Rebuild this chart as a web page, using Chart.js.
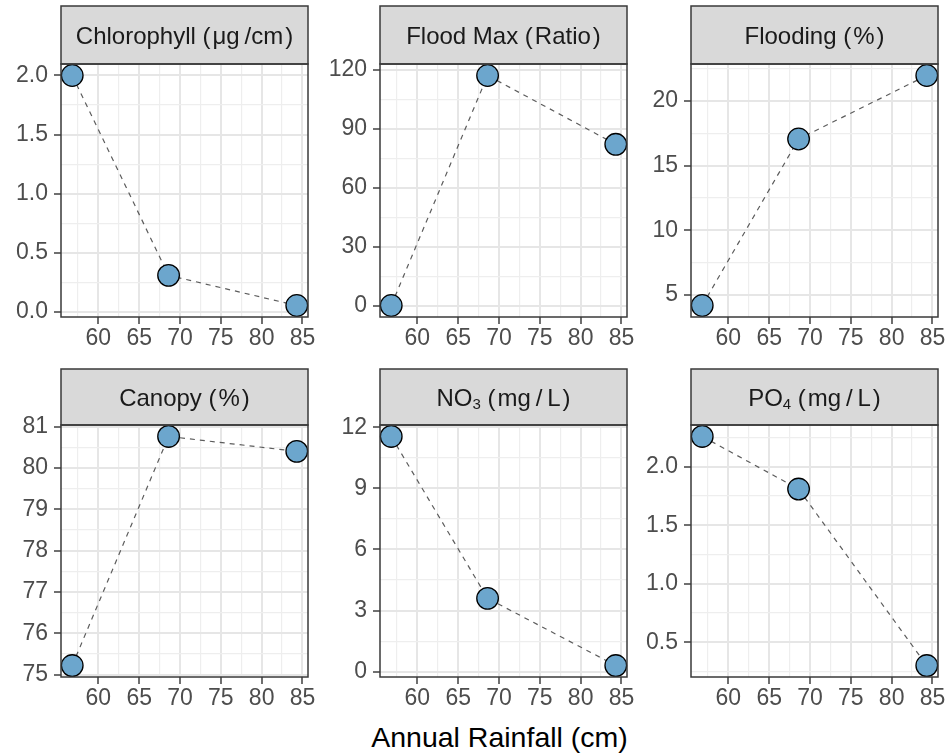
<!DOCTYPE html>
<html>
<head>
<meta charset="utf-8">
<script src="https://cdn.jsdelivr.net/npm/chart.js@4.4.1/dist/chart.umd.min.js"></script>
<style>
  html, body { margin:0; padding:0; background:#fff; width:951px; height:753px; overflow:hidden; position:relative; }
  canvas { position:absolute; }
  #xtitle { position:absolute; left:61px; width:877px; top:723px; text-align:center;
            font:28.5px "Liberation Sans", Arial, sans-serif; line-height:28px; color:#000; }
</style>
</head>
<body>
<div id="xtitle">Annual Rainfall (cm)</div>
<script>
// values
var rainfall = [56.8, 68.6, 84.3];
var xTicks = [60, 65, 70, 75, 80, 85];

var chlorophyll = [2.0, 0.31, 0.055];
var floodMax = [0.2, 117.2, 82.2];
var flooding = [4.2, 17.05, 21.95];
var canopy = [75.22, 80.76, 80.40];
var no3 = [11.55, 3.6, 0.3];
var po4 = [2.26, 1.81, 0.3];

var chlorophyllTicks = [0, 0.5, 1.0, 1.5, 2.0];
var chlorophyllLabels = ['0.0', '0.5', '1.0', '1.5', '2.0'];
var floodMaxTicks = [0, 30, 60, 90, 120];
var floodingTicks = [5, 10, 15, 20];
var canopyTicks = [75, 76, 77, 78, 79, 80, 81];
var no3Ticks = [0, 3, 6, 9, 12];
var po4Ticks = [0.5, 1.0, 1.5, 2.0];
var po4Labels = ['0.5', '1.0', '1.5', '2.0'];

// strip titles as [text, subscript?] pieces
var stripChl = [['Chlorophyll (\u200Aμg\u2009/cm\u200A)']];
var stripFloodMax = [['Flood Max (\u200ARatio\u200A)']];
var stripFlooding = [['Flooding (\u200A%\u200A)']];
var stripCanopy = [['Canopy (\u200A%\u200A)']];
var stripNo3 = [['NO'], ['3', true], [' (\u200Amg\u2009/\u2009L\u200A)']];
var stripPo4 = [['PO'], ['4', true], [' (\u200Amg\u2009/\u2009L\u200A)']];

var panels = [
  { strip: stripChl, y: chlorophyll, ticks: chlorophyllTicks, labels: chlorophyllLabels, col: 0, row: 0 },
  { strip: stripFloodMax, y: floodMax, ticks: floodMaxTicks, col: 1, row: 0 },
  { strip: stripFlooding, y: flooding, ticks: floodingTicks, col: 2, row: 0 },
  { strip: stripCanopy, y: canopy, ticks: canopyTicks, col: 0, row: 1 },
  { strip: stripNo3, y: no3, ticks: no3Ticks, col: 1, row: 1 },
  { strip: stripPo4, y: po4, ticks: po4Ticks, labels: po4Labels, col: 2, row: 1 }
];

// layout
var colLeft = [61, 380, 691];
var plotW = 247;
var yAxisW = 61;
var padRight = 18;
var rows = [
  { canvasTop: 0, h: 358, stripTop: 6, top: 64, bottom: 317 },
  { canvasTop: 360, h: 360, stripTop: 369, top: 425, bottom: 677 }
];
var FONT = '"Liberation Sans", Arial, sans-serif';

function expand(vals) {
  var lo = Math.min.apply(null, vals), hi = Math.max.apply(null, vals);
  var d = (hi - lo) * 0.05;
  return [lo - d, hi + d];
}

function withMinors(majors, lo, hi) {
  var step = majors[1] - majors[0];
  var out = [majors[0] - step / 2];
  majors.forEach(function(m) { out.push(m); out.push(m + step / 2); });
  return out.filter(function(v) { return v >= lo && v <= hi; });
}

function isMajor(majors, v) {
  return majors.some(function(m) { return Math.abs(m - v) < 1e-9; });
}

var facetPlugin = {
  id: 'facet',
  afterDraw: function(chart) {
    var o = chart.options.plugins.facet;
    var a = chart.chartArea;
    var ctx = chart.ctx;
    ctx.save();
    ctx.fillStyle = '#d9d9d9';
    ctx.fillRect(a.left, o.stripTop, a.right - a.left, a.top - o.stripTop);
    ctx.strokeStyle = '#3a3a3a';
    ctx.lineWidth = 1.5;
    ctx.strokeRect(a.left, o.stripTop, a.right - a.left, a.top - o.stripTop);
    ctx.strokeRect(a.left, a.top, a.right - a.left, a.bottom - a.top);

    // strip text
    var fs = 24;
    var subFs = 15;
    var widths = o.strip.map(function(p) {
      ctx.font = (p[1] ? subFs : fs) + 'px ' + FONT;
      return ctx.measureText(p[0]).width;
    });
    var total = widths.reduce(function(s, w) { return s + w; }, 0);
    var x = (a.left + a.right) / 2 - total / 2;
    var base = (o.stripTop + a.top) / 2 + fs * 0.36;
    ctx.fillStyle = '#1a1a1a';
    ctx.textBaseline = 'alphabetic';
    ctx.textAlign = 'left';
    o.strip.forEach(function(p, i) {
      ctx.font = (p[1] ? subFs : fs) + 'px ' + FONT;
      ctx.fillText(p[0], x, p[1] ? base + 3 : base);
      x += widths[i];
    });
    ctx.restore();
  }
};

function gridOpts(majors) {
  return {
    drawOnChartArea: true,
    drawTicks: true,
    tickLength: 7,
    color: function(c) { return isMajor(majors, c.tick.value) ? '#e6e6e6' : '#eeeeee'; },
    lineWidth: function(c) { return isMajor(majors, c.tick.value) ? 2 : 1.2; },
    tickColor: function(c) { return isMajor(majors, c.tick.value) ? '#333333' : 'rgba(0,0,0,0)'; },
    tickWidth: 1.4
  };
}

panels.forEach(function(p) {
  var row = rows[p.row];
  var canvas = document.createElement('canvas');
  var cw = yAxisW + plotW + padRight;
  canvas.width = cw;
  canvas.height = row.h;
  canvas.style.left = (colLeft[p.col] - yAxisW) + 'px';
  canvas.style.top = row.canvasTop + 'px';
  document.body.appendChild(canvas);

  var xr = expand(rainfall);
  var yr = expand(p.y);
  var xAll = withMinors(xTicks, xr[0], xr[1]);
  var yAll = withMinors(p.ticks, yr[0], yr[1]);
  var padTop = row.top - row.canvasTop;
  var xAxisH = row.h - padTop - (row.bottom - row.top);

  new Chart(canvas, {
    type: 'scatter',
    data: {
      datasets: [{
        data: rainfall.map(function(x, i) { return { x: x, y: p.y[i] }; }),
        showLine: true,
        borderColor: '#5c5c5c',
        borderWidth: 1.2,
        borderDash: [5, 5],
        pointRadius: 10.8,
        pointBorderWidth: 1.3,
        pointBackgroundColor: '#6CA6CD',
        pointBorderColor: '#000000',
        clip: false
      }]
    },
    options: {
      responsive: false,
      animation: false,
      devicePixelRatio: 1,
      events: [],
      layout: { padding: { top: padTop, left: 0, right: padRight, bottom: 0 } },
      plugins: {
        legend: { display: false },
        tooltip: { enabled: false },
        facet: { stripTop: row.stripTop - row.canvasTop, strip: p.strip }
      },
      scales: {
        x: {
          type: 'linear',
          min: xr[0],
          max: xr[1],
          border: { display: false },
          grid: gridOpts(xTicks),
          afterBuildTicks: function(s) { s.ticks = xAll.map(function(v) { return { value: v }; }); },
          afterFit: function(s) { s.height = xAxisH; },
          ticks: {
            autoSkip: false,
            maxRotation: 0,
            minRotation: 0,
            padding: 1,
            color: '#4d4d4d',
            font: { family: FONT, size: 23 },
            callback: function(v) { return isMajor(xTicks, v) ? String(v) : ''; }
          }
        },
        y: {
          type: 'linear',
          min: yr[0],
          max: yr[1],
          border: { display: false },
          grid: gridOpts(p.ticks),
          afterBuildTicks: function(s) { s.ticks = yAll.map(function(v) { return { value: v }; }); },
          afterFit: function(s) { s.width = yAxisW; },
          ticks: {
            autoSkip: false,
            padding: 6,
            color: '#4d4d4d',
            font: { family: FONT, size: 23 },
            callback: function(v) {
              for (var i = 0; i < p.ticks.length; i++) {
                if (Math.abs(p.ticks[i] - v) < 1e-9) return p.labels ? p.labels[i] : String(v);
              }
              return '';
            }
          }
        }
      }
    },
    plugins: [facetPlugin]
  });
});
</script>
</body>
</html>
